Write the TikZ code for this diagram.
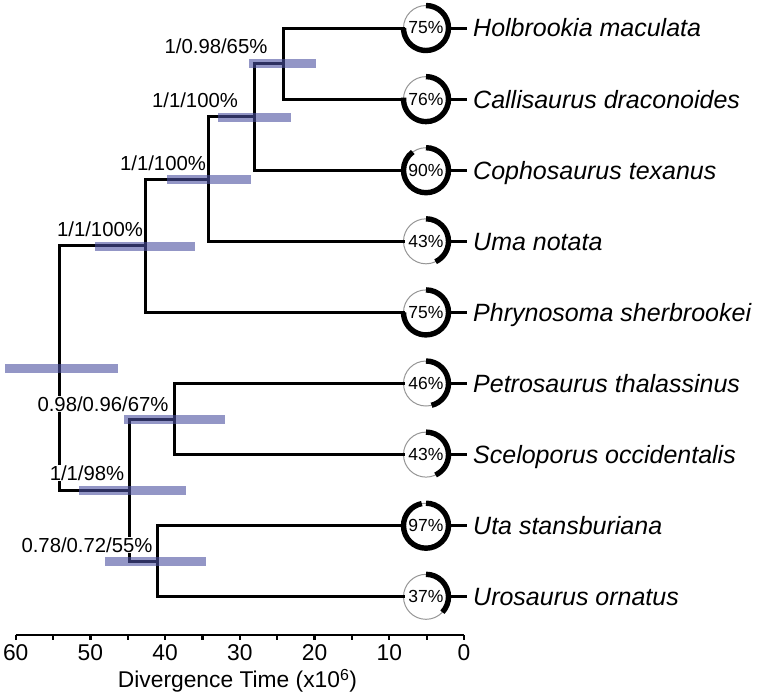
\documentclass[tikz,border=0pt]{standalone}
\usepackage{fontspec}
\setmainfont{Liberation Sans}
\begin{document}
\begin{tikzpicture}[x=1pt,y=-1pt,
  branch/.style={line width=3pt, line join=miter, line cap=rect},
  hpdbar/.style={fill={rgb,255:red,75;green,80;blue,160}, fill opacity=0.6, draw=none},
  support/.style={font=\fontsize{20.3}{22}\selectfont, inner sep=0.6pt},
  supportw/.style={support, fill=white},
  tipcircle/.style={circle, draw={rgb,255:red,150;green,150;blue,150}, line width=1pt, minimum size=45pt, inner sep=0pt, font=\fontsize{17.5}{19}\selectfont},
  arcpart/.style={line width=5.4pt, line cap=butt},
  species/.style={anchor=west, font=\itshape\fontsize{25}{27}\selectfont, inner xsep=8pt, inner ysep=0pt, text height=17.8pt, text depth=0pt},
  ticklab/.style={font=\fontsize{22.8}{25}\selectfont, inner sep=0pt},
]
\useasboundingbox (0,0) rectangle (760,696);

% internal nodes
\coordinate (n1) at (283,63.5);
\coordinate (n2) at (254,116.9);
\coordinate (n3) at (208,179.1);
\coordinate (n4) at (145,245.8);
\coordinate (n5) at (174,419.0);
\coordinate (n6) at (157,561.3);
\coordinate (n7) at (129,490.1);
\coordinate (root) at (59,368.0);

% tips
\foreach \n/\y/\p/\s in {tH/28.0/75/Holbrookia maculata, tC/99.1/76/Callisaurus draconoides, tCo/170.2/90/Cophosaurus texanus, tU/241.3/43/Uma notata, tP/312.4/75/Phrynosoma sherbrookei, tPe/383.5/46/Petrosaurus thalassinus, tS/454.6/43/Sceloporus occidentalis, tUt/525.7/97/Uta stansburiana, tUr/596.8/37/Urosaurus ornatus}{
  \node[tipcircle] (\n) at (426,\y) {\p\%};
  \draw[arcpart] ([shift={(90:22.5pt)}]\n.center) arc[start angle=90, delta angle=-3.6*\p, radius=22.5pt];
  \node[species] (l\n) at (465,\y) {\s};
  \draw[branch] (\n.east) -- (l\n.west);
}

% branches
\draw[branch] (n1) |- (tH.west);
\draw[branch] (n1) |- (tC.west);
\draw[branch] (n2) |- (n1);
\draw[branch] (n2) |- (tCo.west);
\draw[branch] (n3) |- (n2);
\draw[branch] (n3) |- (tU.west);
\draw[branch] (n4) |- (n3);
\draw[branch] (n4) |- (tP.west);
\draw[branch] (n5) |- (tPe.west);
\draw[branch] (n5) |- (tS.west);
\draw[branch] (n6) |- (tUt.west);
\draw[branch] (n6) |- (tUr.west);
\draw[branch] (n7) |- (n5);
\draw[branch] (n7) |- (n6);
\draw[branch] (root) |- (n4);
\draw[branch] (root) |- (n7);

% support labels
\node[support] (s1) at (216,46) {1/0.98/65\%};
\node[support] (s2) at (195,100) {1/1/100\%};
\node[support] (s3) at (163,163) {1/1/100\%};
\node[support] (s4) at (100,229) {1/1/100\%};
\node[supportw] (sr) at (103,404) {0.98/0.96/67\%};
\node[supportw] (s7) at (87,473) {1/1/98\%};
\node[supportw] (s6) at (87,545) {0.78/0.72/55\%};

% HPD bars
\fill[hpdbar] (249,59) rectangle (316,68);
\fill[hpdbar] (218,112.5) rectangle (291,121.5);
\fill[hpdbar] (167,174.5) rectangle (251,183.5);
\fill[hpdbar] (95,241.5) rectangle (195,250.5);
\fill[hpdbar] (5,363.5) rectangle (118,372.5);
\fill[hpdbar] (124,414.5) rectangle (225,423.5);
\fill[hpdbar] (79,485.6) rectangle (186,494.6);
\fill[hpdbar] (105,556.8) rectangle (206,565.8);

% axis
\coordinate (a60) at (15.7,635);
\coordinate (a0) at (464,635);
\draw[line width=2.2pt] (a60) -- (a0);
\foreach \t in {0,5,...,60}{
  \draw[line width=2.2pt] (464-7.4717*\t,635) -- ++(0,5);
}
\foreach \t in {0,10,...,60}{
  \node[ticklab] (tl\t) at (464-7.4717*\t,653) {\t};
}
\node[ticklab] (title) at (237.5,681) {Divergence Time (x10\textsuperscript{6})};
\end{tikzpicture}
\end{document}
